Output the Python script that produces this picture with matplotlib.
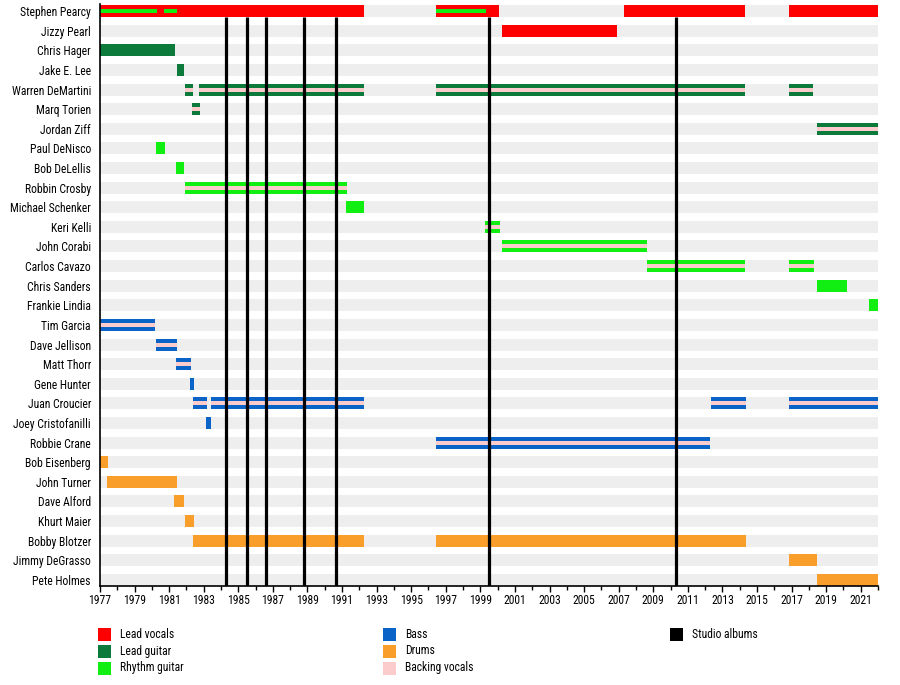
import matplotlib
matplotlib.use("Agg")
import matplotlib.pyplot as plt
from matplotlib.patches import Rectangle
from matplotlib import font_manager as fm

members = ["Stephen Pearcy", "Jizzy Pearl", "Chris Hager", "Jake E. Lee",
           "Warren DeMartini", "Marq Torien", "Jordan Ziff", "Paul DeNisco",
           "Bob DeLellis", "Robbin Crosby", "Michael Schenker", "Keri Kelli",
           "John Corabi", "Carlos Cavazo", "Chris Sanders", "Frankie Lindia",
           "Tim Garcia", "Dave Jellison", "Matt Thorr", "Gene Hunter",
           "Juan Croucier", "Joey Cristofanilli", "Robbie Crane", "Bob Eisenberg",
           "John Turner", "Dave Alford", "Khurt Maier", "Bobby Blotzer",
           "Jimmy DeGrasso", "Pete Holmes"]

start_year = 1977.0
end_year = 2022.0

lead_vocals = [("Stephen Pearcy", 1977.0, 1992.25), ("Stephen Pearcy", 1996.42, 2000.06),
               ("Stephen Pearcy", 2007.29, 2014.32), ("Stephen Pearcy", 2016.88, 2022.0),
               ("Jizzy Pearl", 2000.26, 2006.92)]

lead_guitar = [("Chris Hager", 1977.0, 1981.34), ("Jake E. Lee", 1981.45, 1981.84),
               ("Warren DeMartini", 1981.91, 1982.36), ("Warren DeMartini", 1982.72, 1992.25),
               ("Warren DeMartini", 1996.42, 2014.32), ("Warren DeMartini", 2016.88, 2018.25),
               ("Marq Torien", 1982.32, 1982.78), ("Jordan Ziff", 2018.5, 2022.0)]

rhythm_guitar = [("Paul DeNisco", 1980.24, 1980.76), ("Bob DeLellis", 1981.39, 1981.84),
                 ("Robbin Crosby", 1981.91, 1991.28), ("Michael Schenker", 1991.22, 1992.25),
                 ("Keri Kelli", 1999.25, 2000.12), ("John Corabi", 2000.24, 2008.65),
                 ("Carlos Cavazo", 2008.62, 2014.32), ("Carlos Cavazo", 2016.88, 2018.27),
                 ("Chris Sanders", 2018.5, 2020.18), ("Frankie Lindia", 2021.5, 2022.0)]

bass = [("Tim Garcia", 1977.0, 1980.18), ("Dave Jellison", 1980.24, 1981.45),
        ("Matt Thorr", 1981.39, 1982.26), ("Gene Hunter", 1982.2, 1982.43),
        ("Juan Croucier", 1982.38, 1983.18), ("Juan Croucier", 1983.42, 1992.25),
        ("Juan Croucier", 2012.32, 2014.34), ("Juan Croucier", 2016.88, 2022.0),
        ("Joey Cristofanilli", 1983.13, 1983.4), ("Robbie Crane", 1996.42, 2012.26)]

drums = [("Bob Eisenberg", 1977.0, 1977.48), ("John Turner", 1977.39, 1981.45),
         ("Dave Alford", 1981.28, 1981.86), ("Khurt Maier", 1981.91, 1982.43),
         ("Bobby Blotzer", 1982.38, 1992.25), ("Bobby Blotzer", 1996.42, 2014.34),
         ("Jimmy DeGrasso", 2016.88, 2018.45), ("Pete Holmes", 2018.5, 2022.0)]

# thin stripes drawn inside the main bars
rhythm_stripes = [("Stephen Pearcy", 1977.0, 1980.27), ("Stephen Pearcy", 1980.7, 1981.43),
                  ("Stephen Pearcy", 1996.42, 1999.3)]

backing_stripes = [("Warren DeMartini", 1981.91, 1982.36), ("Warren DeMartini", 1982.72, 1992.25),
                   ("Warren DeMartini", 1996.42, 2014.32), ("Warren DeMartini", 2016.88, 2018.25),
                   ("Marq Torien", 1982.32, 1982.78), ("Jordan Ziff", 2018.5, 2022.0),
                   ("Robbin Crosby", 1981.91, 1991.28), ("Keri Kelli", 1999.25, 2000.12),
                   ("John Corabi", 2000.24, 2008.65), ("Carlos Cavazo", 2008.62, 2014.32),
                   ("Carlos Cavazo", 2016.88, 2018.27), ("Tim Garcia", 1977.0, 1980.18),
                   ("Dave Jellison", 1980.24, 1981.45), ("Matt Thorr", 1981.39, 1982.26),
                   ("Juan Croucier", 1982.38, 1983.18), ("Juan Croucier", 1983.42, 1992.25),
                   ("Juan Croucier", 2012.32, 2014.34), ("Juan Croucier", 2016.88, 2022.0),
                   ("Robbie Crane", 1996.42, 2012.26)]

studio_albums = [1984.26, 1985.48, 1986.63, 1988.81, 1990.66, 1999.5, 2010.31]

colors = {
    "Lead vocals": "#ff0000",
    "Lead guitar": "#0b7a3b",
    "Rhythm guitar": "#11ee11",
    "Bass": "#0a64c8",
    "Drums": "#f99e2a",
    "Backing vocals": "#fccccc",
    "Studio albums": "#000000",
}


# ---- pick a narrow sans font if one is installed, else Roboto ----
def pick_font():
    best = None
    best_score = -1
    pref = ["Liberation Sans Narrow", "Arial Narrow", "Noto Sans", "Roboto",
            "DejaVu Sans", "Open Sans", "Lato", "Inter"]
    for f in fm.fontManager.ttflist:
        fname = f.fname.lower()
        if "bold" in fname or "italic" in fname or "oblique" in fname or "light" in fname \
                or "thin" in fname or "medium" in fname or "black" in fname or "mono" in fname:
            continue
        if f.style != "normal":
            continue
        st = str(f.stretch).lower()
        narrow = ("narrow" in f.name.lower() or "condensed" in fname or "narrow" in fname
                  or st in ("condensed", "semi-condensed"))
        if not narrow or "extra" in fname or "ultra" in fname:
            continue
        fam = next((p for p in pref if f.name.startswith(p)), None)
        if fam is None:
            continue
        score = 100 - pref.index(fam) * 5
        if "semi" in fname or st == "semi-condensed":
            score += 1
        if score > best_score:
            best_score, best = score, f.fname
    if best:
        return fm.FontProperties(fname=best)
    return fm.FontProperties(family=["Roboto", "Liberation Sans", "DejaVu Sans"])

fp = pick_font()

fig = plt.figure(figsize=(9, 6.85), dpi=100)
renderer = fig.canvas.get_renderer()
probe = fig.text(0, 0, "Michael Schenker", fontproperties=fp, size=10)
w = probe.get_window_extent(renderer).width
probe.remove()
FS = min(9.0, 10.0 * 81.0 / w)
fp.set_size(FS)

ax = fig.add_axes([100 / 900, 1 - 586 / 685, 778 / 900, 582 / 685])

ypos = {m: i for i, m in enumerate(members)}
bh = 0.61

# background rows
for m in members:
    ax.barh(ypos[m], end_year - start_year, left=start_year, height=bh,
            color="#eeeeee", zorder=1)

def draw(spans, color, h, z):
    for m, s, e in spans:
        ax.barh(ypos[m], e - s, left=s, height=h, color=color, zorder=z, linewidth=0)

draw(lead_vocals, colors["Lead vocals"], bh, 2)
draw(lead_guitar, colors["Lead guitar"], bh, 2)
draw(rhythm_guitar, colors["Rhythm guitar"], bh, 2)
draw(bass, colors["Bass"], bh, 2)
draw(drums, colors["Drums"], bh, 2)
draw(rhythm_stripes, colors["Rhythm guitar"], bh / 3, 3)
draw(backing_stripes, colors["Backing vocals"], bh / 3, 3)

ax.vlines(studio_albums, bh / 2, len(members) - 1 + 0.33, colors="black",
          linewidth=2.3, zorder=4)

ax.set_xlim(start_year, end_year)
ax.set_ylim(len(members) - 1 + 0.31, -0.36)
ax.set_yticks(range(len(members)))
ax.set_yticklabels(members, fontproperties=fp)
ax.tick_params(axis="y", length=0, pad=6.5)
ax.set_xticks(range(1977, 2022, 2))
ax.set_xticklabels([str(y) for y in range(1977, 2022, 2)], fontproperties=fp)
ax.set_xticks(range(1977, 2023), minor=True)
ax.tick_params(axis="x", which="major", length=4, width=1, pad=1.8)
ax.tick_params(axis="x", which="minor", length=3, width=1)
for sp in ["top", "right"]:
    ax.spines[sp].set_visible(False)
for sp in ["left", "bottom"]:
    ax.spines[sp].set_linewidth(1.2)
    ax.spines[sp].set_zorder(5)

legend_cols = [
    (98, ["Lead vocals", "Lead guitar", "Rhythm guitar"]),
    (383, ["Bass", "Drums", "Backing vocals"]),
    (670, ["Studio albums"]),
]
row_y = [634, 651, 668]
for x0, labels in legend_cols:
    for j, lab in enumerate(labels):
        yc = row_y[j]
        fig.add_artist(Rectangle((x0 / 900, 1 - (yc + 6.5) / 685), 13 / 900, 13 / 685,
                                 transform=fig.transFigure, color=colors[lab], linewidth=0))
        fig.text((x0 + 22) / 900, 1 - yc / 685, lab, fontproperties=fp,
                 va="center", ha="left")

fig.savefig("out.png", dpi=100)
